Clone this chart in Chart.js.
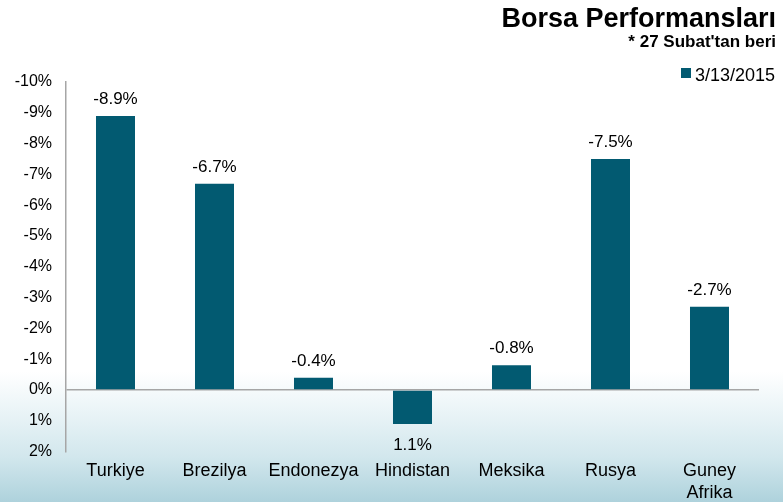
<!DOCTYPE html>
<html>
<head>
<meta charset="utf-8">
<script src="https://cdn.jsdelivr.net/npm/chart.js@4.4.1/dist/chart.umd.min.js"></script>
<style>
html,body{margin:0;padding:0;width:783px;height:502px;overflow:hidden;
background:linear-gradient(to bottom,#ffffff 0%,#ffffff 74%,#eaf4f7 82%,#d2e7ed 91%,#aed2dc 100%);}
#wrap{position:relative;width:783px;height:502px;}
</style>
</head>
<body>
<div id="wrap"><canvas id="c"></canvas></div>
<script>
const categories = [['Turkiye'], ['Brezilya'], ['Endonezya'], ['Hindistan'], ['Meksika'], ['Rusya'], ['Guney', 'Afrika']];
const seriesName = '3/13/2015';
const values = [-8.9, -6.7, -0.4, 1.1, -0.8, -7.5, -2.7];
const yMin = -10;
const yMax = 2;
const yStep = 1;
const titleText = 'Borsa Performansları';
const subtitleText = "* 27 Subat'tan beri";

const barColor = '#025a71';
const axisColor = '#a6a6a6';
const FONT = '"Liberation Sans", Arial, sans-serif';

const headerPlugin = {
  id: 'header',
  afterDraw(chart) {
    const ctx = chart.ctx;
    ctx.save();
    ctx.fillStyle = '#000';
    ctx.textAlign = 'right';
    ctx.textBaseline = 'alphabetic';
    ctx.font = 'bold 27px ' + FONT;
    ctx.fillText(titleText, 776, 27);
    ctx.font = 'bold 17px ' + FONT;
    ctx.fillText(subtitleText, 776, 47);
    // legend
    ctx.fillStyle = barColor;
    ctx.fillRect(681, 68, 10, 10);
    ctx.fillStyle = '#000';
    ctx.textAlign = 'left';
    ctx.font = '18px ' + FONT;
    ctx.fillText(chart.data.datasets[0].label, 695, 81);
    ctx.restore();
  }
};

const valueLabelPlugin = {
  id: 'valueLabels',
  afterDatasetsDraw(chart) {
    const ctx = chart.ctx;
    const meta = chart.getDatasetMeta(0);
    const data = chart.data.datasets[0].data;
    ctx.save();
    ctx.fillStyle = '#000';
    ctx.textAlign = 'center';
    ctx.textBaseline = 'alphabetic';
    ctx.font = '17px ' + FONT;
    meta.data.forEach((el, i) => {
      const v = data[i];
      const y = v < 0 ? el.y - 12 : el.y + 26;
      ctx.fillText(v.toFixed(1) + '%', el.x, y);
    });
    ctx.restore();
  }
};

new Chart(document.getElementById('c'), {
  type: 'bar',
  data: {
    labels: categories,
    datasets: [{
      label: seriesName,
      data: values,
      backgroundColor: barColor,
      borderWidth: 0,
      barPercentage: 0.394,
      categoryPercentage: 1.0
    }]
  },
  options: {
    responsive: true,
    maintainAspectRatio: false,
    animation: false,
    layout: { padding: { top: 82, right: 24, left: 0, bottom: 0 } },
    plugins: {
      legend: { display: false },
      title: { display: false },
      tooltip: { enabled: false }
    },
    scales: {
      x: {
        grid: { display: false, drawTicks: false },
        border: { display: false },
        ticks: {
          color: '#000',
          font: { family: FONT, size: 18 },
          padding: 9,
          maxRotation: 0,
          autoSkip: false
        },
        afterFit(scale) { scale.height = 50.4; }
      },
      y: {
        reverse: true,
        min: yMin,
        max: yMax,
        grid: {
          drawTicks: false,
          color: (c) => (c.tick && c.tick.value === 0 ? axisColor : 'rgba(0,0,0,0)'),
          lineWidth: 1.5
        },
        border: { display: true, color: axisColor, width: 1.5 },
        ticks: {
          stepSize: yStep,
          color: '#000',
          font: { family: FONT, size: 16 },
          padding: 14,
          callback: (v) => v + '%'
        },
        afterFit(scale) { scale.width = 66; }
      }
    }
  },
  plugins: [headerPlugin, valueLabelPlugin]
});
</script>
</body>
</html>
